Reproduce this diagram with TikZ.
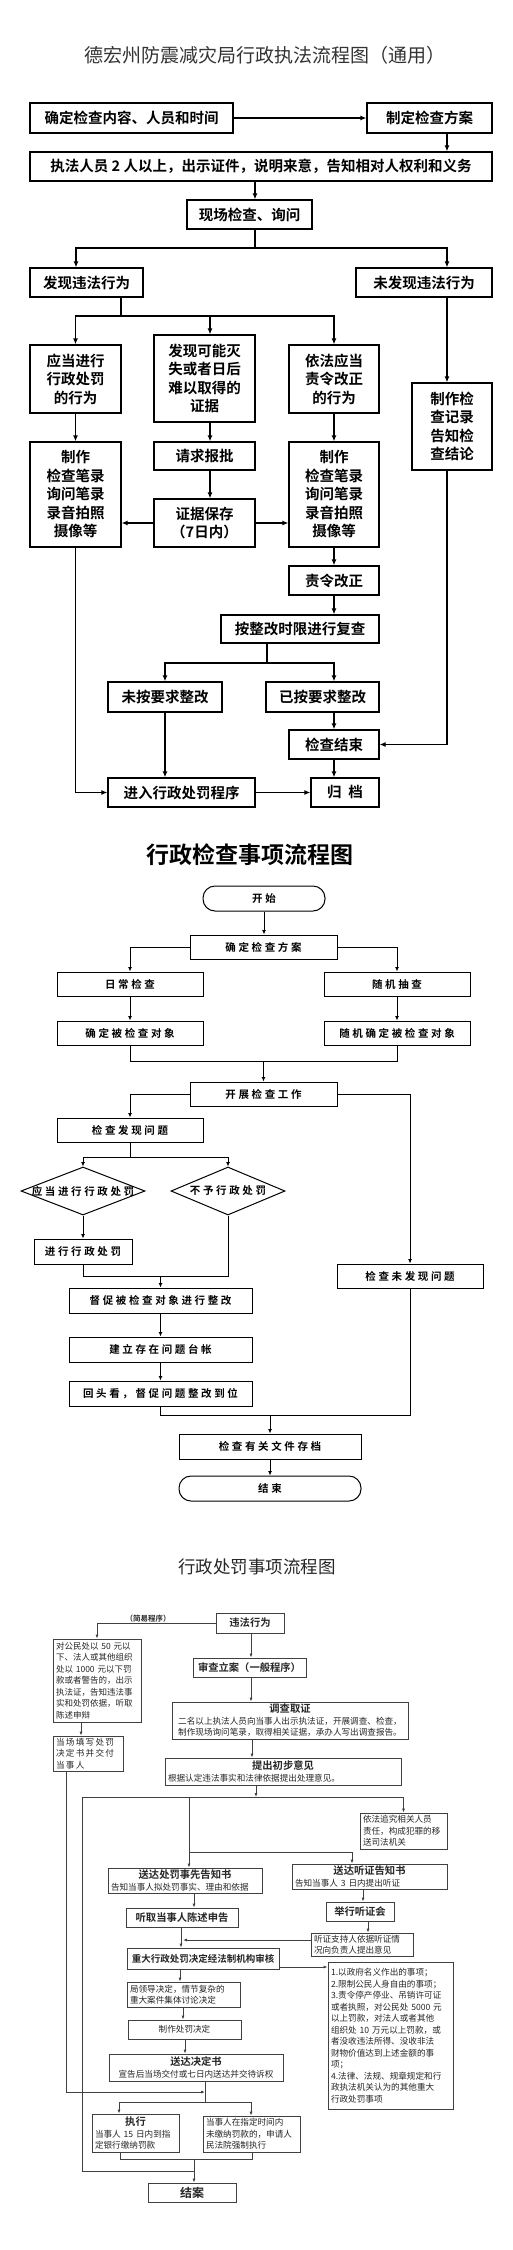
\documentclass[tikz,border=0pt]{standalone}
\usepackage{fontspec}
\setmainfont{Noto Sans CJK SC}[BoldFont=* Bold]
\newfontfamily\widecjk{Noto Sans CJK SC}[LetterSpace=25,BoldFont=* Bold]
\newcommand\phead{\fontsize{10.3}{12}\selectfont\bfseries}
\usetikzlibrary{arrows.meta,shapes.geometric}

\begin{document}
\begin{tikzpicture}[x=1pt,y=-1pt,
 sz/.style 2 args={minimum width=#1pt,minimum height=#2pt},
 boxA/.style={draw,line width=1.2pt,inner sep=0pt,align=center,font=\fontsize{14.5}{18.5}\selectfont\bfseries},
 lnA/.style={line width=1.2pt},
 arrA/.style={lnA,-{Latex[length=6pt,width=5pt]}},
 boxB/.style={draw,line width=1pt,inner sep=0pt,align=center,font=\widecjk\fontsize{10.5}{12}\selectfont\bfseries},
 startB/.style={boxB,rounded corners=12pt},
 diaB/.style={draw,line width=1pt,diamond,inner sep=0pt},
 txtB/.style={inner sep=0pt,font=\widecjk\fontsize{10.5}{12}\selectfont\bfseries},
 lnB/.style={line width=1pt},
 arrB/.style={lnB,-{Latex[length=4.5pt,width=4pt]}},
 boxC/.style={draw=black!75,line width=.8pt,inner ysep=1pt,inner xsep=3pt,text=black!85,font=\fontsize{8.6}{11.5}\selectfont},
 hC/.style={font=\phead},
 lnC/.style={draw=black!75,line width=.8pt},
 arrC/.style={lnC,-{Latex[length=4pt,width=3pt]}}]
\fill[white] (0,0) rectangle (512,2250);
\useasboundingbox (0,0) rectangle (512,2250);

\node[font=\fontsize{19}{22}\selectfont,text=black!80] (t1) at (265,55) {德宏州防震减灾局行政执法流程图（通用）};
\node[boxA,sz={203}{30}] (a1) at (131.5,118) {确定检查内容、人员和时间};
\node[boxA,sz={125}{30}] (a2) at (429.5,118) {制定检查方案};
\node[boxA,sz={462}{29}] (a3) at (261,166.5) {执法人员 2 人以上，出示证件，说明来意，告知相对人权利和义务};
\node[boxA,sz={125}{29}] (a4) at (249.5,214.5) {现场检查、询问};
\node[boxA,sz={113}{29}] (a5) at (86.5,282.5) {发现违法行为};
\node[boxA,sz={136}{29}] (a6) at (424,282.5) {未发现违法行为};
\node[boxA,sz={91}{68}] (a7) at (75.5,379) {应当进行\\行政处罚\\的行为};
\node[boxA,sz={101}{87}] (a8) at (204.5,378.5) {发现可能灭\\失或者日后\\难以取得的\\证据};
\node[boxA,sz={90}{68}] (a9) at (334,379) {依法应当\\责令改正\\的行为};
\node[boxA,sz={80}{87}] (a10) at (452,426.5) {制作检\\查记录\\告知检\\查结论};
\node[boxA,sz={91}{105}] (a11) at (75.5,494.5) {制作\\检查笔录\\询问笔录\\录音拍照\\摄像等};
\node[boxA,sz={101}{28}] (a12) at (204.5,456) {请求报批};
\node[boxA,sz={101}{48}] (a13) at (204.5,523) {证据保存\\（7日内）};
\node[boxA,sz={90}{105}] (a14) at (334,494.5) {制作\\检查笔录\\询问笔录\\录音拍照\\摄像等};
\node[boxA,sz={90}{29}] (a15) at (334,580.5) {责令改正};
\node[boxA,sz={158}{28}] (a16) at (300,629) {按整改时限进行复查};
\node[boxA,sz={114}{30}] (a17) at (165,697) {未按要求整改};
\node[boxA,sz={113}{30}] (a18) at (322.5,697) {已按要求整改};
\node[boxA,sz={90}{29}] (a19) at (334,744.5) {检查结束};
\node[boxA,sz={147}{29}] (a20) at (181.5,792.5) {进入行政处罚程序};
\node[boxA,sz={68}{29}] (a21) at (345,792.5) {归\hspace{7pt}档};

\coordinate (s1) at (255,248);
\coordinate (s2) at (121,316);
\coordinate (s3) at (267,663);
\draw[arrA] (a1) -- (a2);
\draw[arrA] (447,0 |- a2.south) -- (447,0 |- a3.north);
\draw[arrA] (255,0 |- a3.south) -- (255,0 |- a4.north);
\draw[lnA] (255,0 |- a4.south) -- (s1);
\draw[arrA] (s1) -| (76,0 |- a5.north);
\draw[arrA] (s1) -| (447,0 |- a6.north);
\draw[lnA] (121,0 |- a5.south) -- (s2);
\draw[arrA] (s2) -| (a7.north);
\draw[arrA] (s2) -| (210,0 |- a8.north);
\draw[arrA] (s2) -| (a9.north);
\draw[arrA] (447,0 |- a6.south) -- (447,0 |- a10.north);
\draw[arrA] (210,0 |- a8.south) -- (210,0 |- a12.north);
\draw[arrA] (210,0 |- a12.south) -- (210,0 |- a13.north);
\draw[arrA] (a13.west) -- (a13.west -| a11.east);
\draw[arrA] (a13.east) -- (a13.east -| a14.west);
\foreach \u/\v in {a7/a11,a9/a14,a14/a15,a20/a21}
 \draw[arrA] (\u) -- (\v);
\draw[arrA] (a15.south) -- (a15.south |- a16.north);
\draw[lnA] (267,0 |- a16.south) -- (s3);
\draw[arrA] (s3) -| (a17.north);
\draw[arrA] (s3) -| (a19.north |- a18.north);
\draw[arrA] (a19.north |- a18.south) -- (a19.north);
\draw[arrA] (447,0 |- a10.south) |- (a19.east);
\draw[arrA] (a19.south) -- (a19.south |- a21.north);
\draw[arrA] (a17.south) -- (a17.south |- a20.north);
\draw[arrA] (a11.south) |- (a20.west);

\node[font=\fontsize{23}{26}\selectfont\bfseries] (t2) at (250,855) {行政检查事项流程图};
\node[startB,sz={122}{25}] (b1) at (264,898.5) {开始};
\node[boxB,sz={147}{24}] (b2) at (263.5,947) {确定检查方案};
\node[boxB,sz={146}{24}] (b3) at (130,984) {日常检查};
\node[boxB,sz={146}{24}] (b4) at (397,984) {随机抽查};
\node[boxB,sz={146}{24}] (b5) at (130,1033) {确定被检查对象};
\node[boxB,sz={146}{24}] (b6) at (397,1033) {随机确定被检查对象};
\node[boxB,sz={147}{24}] (b7) at (263.5,1094) {开展检查工作};
\node[boxB,sz={146}{24}] (b8) at (130,1130) {检查发现问题};
\node[boxB,sz={146}{24}] (b9) at (410,1276) {检查未发现问题};
\node[diaB,sz={124}{48},label={[txtB]center:应当进行行政处罚}] (b10) at (83,1191) {};
\node[diaB,sz={114}{48},label={[txtB]center:不予行政处罚}] (b11) at (228,1191) {};
\node[boxB,sz={98}{25}] (b12) at (83,1251.5) {进行行政处罚};
\node[boxB,sz={183}{25}] (b13) at (160.5,1300.5) {督促被检查对象进行整改};
\node[boxB,sz={183}{25}] (b14) at (160.5,1349.5) {建立存在问题台帐};
\node[boxB,sz={183}{25}] (b15) at (160.5,1393.5) {回头看，督促问题整改到位};
\node[boxB,sz={182}{25}] (b16) at (270,1446.5) {检查有关文件存档};
\node[startB,sz={182}{25}] (b17) at (270,1488.5) {结束};

\coordinate (m1) at (263.5,1061);
\coordinate (m2) at (130,1157);
\coordinate (m3) at (160.5,1276);
\coordinate (m4) at (270,1415);
\draw[arrB] (b1.south) -- (b1.south |- b2.north);
\draw[arrB] (b2.west) -| (b3.north);
\draw[arrB] (b2.east) -| (b4.north);
\foreach \u/\v in {b3/b5,b4/b6,b10/b12,b13/b14,b14/b15,b16/b17}
 \draw[arrB] (\u) -- (\v);
\draw[lnB] (b5.south) |- (m1) -| (b6.south);
\draw[arrB] (m1) -- (b7.north);
\draw[arrB] (b7.west) -| (b8.north);
\draw[arrB] (b7.east) -| (b9.north);
\draw[lnB] (b8.south) -- (m2);
\draw[arrB] (m2) -| (b10.north);
\draw[arrB] (m2) -| (b11.north);
\draw[lnB] (b12.south) |- (m3) -| (b11.south);
\draw[arrB] (m3) -- (b13.north);
\draw[lnB] (b15.south) |- (m4) -| (b9.south);
\draw[arrB] (m4) -- (b16.north);

\node[font=\fontsize{17.5}{20}\selectfont,text=black!85] (t3) at (257,1567) {行政处罚事项流程图};
\node[boxC,hC,sz={68}{20}] (c1) at (250,1623) {违法行为};
\node[font=\fontsize{7.5}{9}\selectfont\bfseries,text=black!85] (c0) at (148,1619) {（简易程序）};
\node[boxC,sz={88}{83},text width=82pt,align=left,font=\fontsize{8.5}{11.5}\selectfont] (c2) at (97,1680.5) {对公民处以 50 元以\\下、法人或其他组织\\处以 1000 元以下罚\\款或者警告的，出示\\执法证，告知违法事\\实和处罚依据，听取\\陈述申辩};
\node[boxC,sz={70}{35},text width=64pt,align=left,font=\fontsize{8.6}{11.5}\selectfont\addfontfeature{LetterSpace=15}] (c3) at (88,1753.5) {当场填写处罚\\决定书并交付\\当事人};
\node[boxC,hC,sz={113}{19}] (c4) at (249.5,1667.5) {审查立案（一般程序）};
\node[boxC,sz={236}{37},text width=230pt,align=center] (c5) at (290,1720.5) {{\phead 调查取证}\\二名以上执法人员向当事人出示执法证，开展调查、检查，\\制作现场询问笔录，取得相关证据，承办人写出调查报告。};
\node[boxC,sz={236}{27},text width=230pt,align=left] (c6) at (283,1771.5) {{\centering\phead 提出初步意见\par}根据认定违法事实和法律依据提出处理意见。};
\node[boxC,sz={87}{36},text width=81pt,align=left] (c7) at (403.5,1831) {依法追究相关人员\\责任，构成犯罪的移\\送司法机关};
\node[boxC,sz={154}{25},text width=148pt,align=left] (c8) at (185,1880.5) {{\centering\phead 送达处罚事先告知书\par}告知当事人拟处罚事实、理由和依据};
\node[boxC,sz={155}{25},text width=149pt,align=left] (c9) at (369.5,1876.5) {{\centering\phead 送达听证告知书\par}告知当事人 3 日内提出听证};
\node[boxC,hC,sz={112}{19}] (c10) at (182,1917.5) {听取当事人陈述申告};
\node[boxC,hC,sz={68}{19}] (c11) at (360,1911.5) {举行听证会};
\node[boxC,sz={102}{23},text width=96pt,align=left] (c12) at (362,1944.5) {听证支持人依据听证情\\况向负责人提出意见};
\node[boxC,font=\fontsize{9.5}{11}\selectfont\bfseries,sz={152}{21}] (c13) at (203,1958.5) {重大行政处罚决定经法制机构审核};
\node[boxC,sz={125}{147},text width=119pt,align=left] (c14) at (390.5,2035.5) {1.以政府名义作出的事项；\\2.限制公民人身自由的事项；\\3.责令停产停业、吊销许可证\\或者执照，对公民处 5000 元\\以上罚款，对法人或者其他\\组织处 10 万元以上罚款，或\\者没收违法所得、没收非法\\财物价值达到上述金额的事\\项；\\4.法律、法规、规章规定和行\\政执法机关认为的其他重大\\行政处罚事项};
\node[boxC,sz={113}{25},text width=107pt,align=left] (c15) at (183.5,1994.5) {局领导决定，情节复杂的\\重大案件集体讨论决定};
\node[boxC,sz={113}{19}] (c16) at (184.5,2029.5) {制作处罚决定};
\node[boxC,sz={174}{27},text width=168pt,align=center] (c17) at (196,2067.5) {{\phead 送达决定书}\\宣告后当场交付或七日内送达并交待诉权};
\node[boxC,sz={87}{38},text width=81pt,align=left] (c18) at (135.5,2133) {{\centering\phead 执行\par}当事人 15 日内到指\\定银行缴纳罚款};
\node[boxC,sz={97}{36},text width=91pt,align=left] (c19) at (251.5,2134) {当事人在指定时间内\\未缴纳罚款的，申请人\\民法院强制执行};
\node[boxC,font=\fontsize{12}{14}\selectfont\bfseries,sz={88}{19}] (c20) at (192,2192.5) {结案};

\coordinate (n1) at (256,1797);
\coordinate (n2) at (205,2092);
\coordinate (n3) at (205,2102);
\coordinate (n4) at (194,2159);
\coordinate (n5) at (194,2171);
\draw[arrC] (c1.west) -| (c2.north);
\draw[arrC] (81,0 |- c2.south) -- (81,0 |- c3.north);
\draw[arrC] (251,0 |- c1.south) -- (251,0 |- c4.north);
\draw[arrC] (251,0 |- c4.south) -- (251,0 |- c5.north);
\draw[arrC] (252,0 |- c5.south) -- (252,0 |- c6.north);
\draw[arrC] (256,0 |- c6.south) -- (n1);
\draw[arrC] (n1) -| (c7.north);
\draw[lnC] (n1) -- (82,1797) |- (n5);
\draw[arrC] (189,0 |- n1) -- (189,0 |- c8.north);
\draw[arrC] (189,1852) -| (352,0 |- c9.north);
\draw[arrC] (194,0 |- c8.south) -- (194,0 |- c10.north);
\draw[arrC] (363,0 |- c9.south) -- (363,0 |- c11.north);
\draw[arrC] (368,0 |- c11.south) -- (368,0 |- c12.north);
\draw[arrC] (c12.west |- 0,1940) -- (183,1940);
\draw[arrC] (181,0 |- c10.south) -- (181,0 |- c13.north);
\draw[arrC] (c13.east |- 0,1967) -- (c14.west |- 0,1967);
\draw[arrC] (180,0 |- c13.south) -- (180,0 |- c15.north);
\draw[arrC] (183,0 |- c15.south) -- (183,0 |- c16.north);
\draw[arrC] (185,0 |- c16.south) -- (185,0 |- c17.north);
\draw[arrC] (66,0 |- c3.south) |- (n2);
\draw[lnC] (205,0 |- c17.south) -- (n3);
\draw[arrC] (n3) -| (119,0 |- c18.north);
\draw[arrC] (n3) -| (251,0 |- c19.north);
\draw[lnC] (120,0 |- c18.south) |- (n4) -| (252,0 |- c19.south);
\draw[arrC] (n4) -- (194,0 |- c20.north);
\end{tikzpicture}
\end{document}
